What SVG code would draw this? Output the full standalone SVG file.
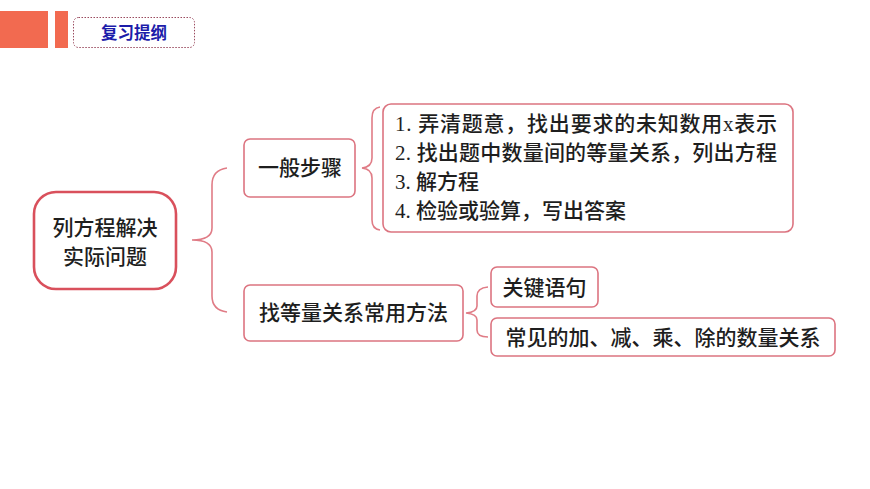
<svg xmlns="http://www.w3.org/2000/svg" width="870" height="489" viewBox="0 0 870 489">
<style>
.box{fill:#fff;stroke:#dc7480;stroke-width:1.6}
.main{fill:#fff;stroke:#d9505c;stroke-width:2.6}
.br{fill:none;stroke:#e07c86;stroke-width:1.6}
.t{font-family:"Noto Sans CJK SC",sans-serif;font-size:21px;fill:#1e1e1e;font-weight:500}
.l{font-family:"Liberation Serif","Noto Sans CJK SC",serif;font-size:21px;fill:#1e1e1e;font-weight:500}
</style>
<rect width="870" height="489" fill="#fff"/>
<g id="header">
<rect x="0" y="11" width="48" height="37" fill="#f26a50"/>
<rect x="55" y="11" width="13" height="37" fill="#f26a50"/>
<rect x="73.5" y="17.5" width="121" height="30" rx="5" fill="#fff" stroke="#9a4a5e" stroke-width="1" stroke-dasharray="1.5 1.5"/>
<text x="134" y="38.5" text-anchor="middle" font-family="Noto Sans CJK SC,sans-serif" font-size="16.5" font-weight="bold" fill="#1c1caa">复习提纲</text>
</g>
<g id="connectors">
<path class="br" d="M227,168 Q212,170 212,185 L212,228 Q212,240 192,240 Q212,240 212,252 L212,296 Q212,310 227,312"/>
<path class="br" d="M380,107 Q372,108 372,118 L372,158 Q372,167 362,168 Q372,169 372,178 L372,220 Q372,229 380,230"/>
<path class="br" d="M488,287 Q477,288 477,296 L477,306 Q477,312 466,313 Q477,314 477,320 L477,330 Q477,337 488,337"/>
</g>
<g id="n-main">
<rect class="main" x="34" y="192" width="142" height="97" rx="22"/>
<text class="t" x="105" y="235" text-anchor="middle">列方程解决</text>
<text class="t" x="105" y="264" text-anchor="middle">实际问题</text>
</g>
<g id="n-steps">
<rect class="box" x="244" y="139" width="111" height="58" rx="6"/>
<text class="t" x="300" y="175" text-anchor="middle">一般步骤</text>
</g>
<g id="n-list">
<rect class="box" x="383" y="104" width="410" height="128" rx="8"/>
<text class="l" x="395" y="131" textLength="382" lengthAdjust="spacing">1. 弄清题意，找出要求的未知数用x表示</text>
<text class="l" x="395" y="160" textLength="382" lengthAdjust="spacing">2. 找出题中数量间的等量关系，列出方程</text>
<text class="l" x="395" y="189">3. 解方程</text>
<text class="l" x="395" y="218">4. 检验或验算，写出答案</text>
</g>
<g id="n-method">
<rect class="box" x="244" y="285" width="219" height="56" rx="6"/>
<text class="t" x="353.5" y="320" text-anchor="middle">找等量关系常用方法</text>
</g>
<g id="n-key">
<rect class="box" x="491" y="267" width="107" height="40" rx="6"/>
<text class="t" x="544.5" y="294.5" text-anchor="middle">关键语句</text>
</g>
<g id="n-common">
<rect class="box" x="491" y="318" width="344" height="38" rx="6"/>
<text class="t" x="663" y="345" text-anchor="middle">常见的加、减、乘、除的数量关系</text>
</g>
</svg>
